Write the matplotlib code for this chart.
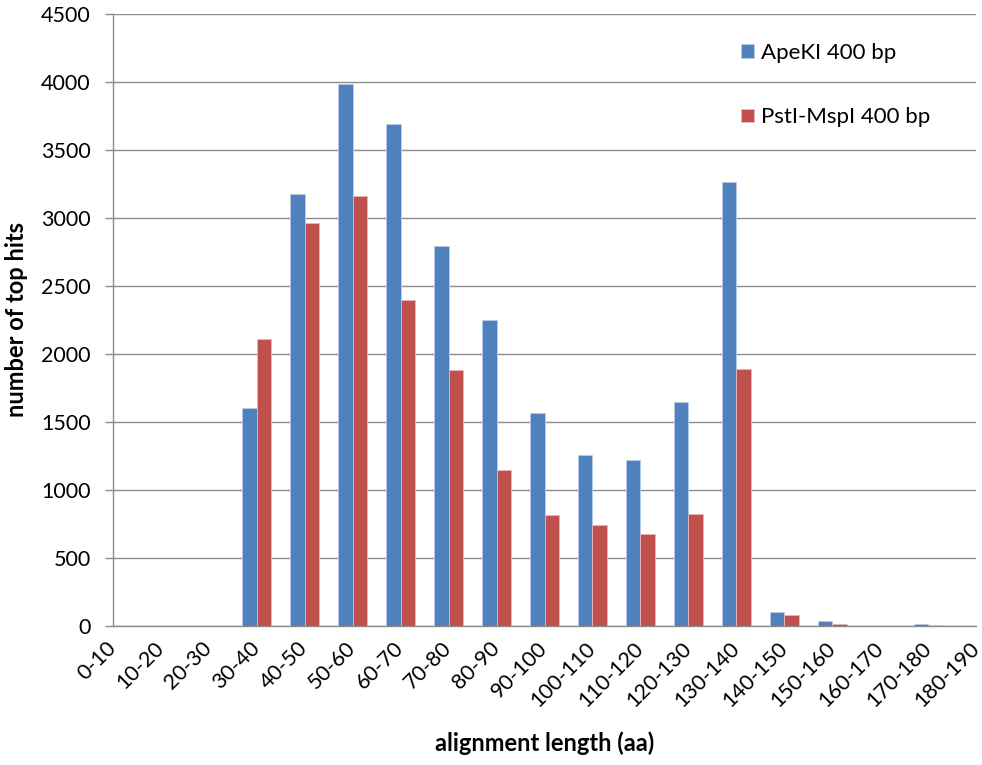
import numpy as np
from matplotlib import pyplot as plt

plt.rcParams['font.family'] = ['Lato', 'DejaVu Sans']

# alignment length bins (aa) and number of top hits per library
categories = ['0-10', '10-20', '20-30', '30-40', '40-50', '50-60', '60-70',
              '70-80', '80-90', '90-100', '100-110', '110-120', '120-130',
              '130-140', '140-150', '150-160', '160-170', '170-180', '180-190']
apeki = [0, 0, 0, 1600, 3172, 3981, 3690, 2792, 2247, 1562, 1257, 1216,
         1645, 3260, 103, 37, 0, 15, 0]
pstl_mspl = [0, 0, 0, 2105, 2959, 3162, 2397, 1878, 1143, 812, 738, 672,
             821, 1885, 78, 12, 0, 2, 0]

blue = '#4F81BD'
red = '#C0504D'
grid_grey = '#8C8C8C'

fig = plt.figure(figsize=(9.82, 7.65), dpi=100)
ax = fig.add_axes([0.115, 0.182, 0.879, 0.800])

x = np.arange(len(categories))
w = 0.30
ax.bar(x - w / 2, apeki, w, color=blue, edgecolor='#B9CDE5', linewidth=0.6,
       label='ApeKI 400 bp', zorder=3)
ax.bar(x + w / 2, pstl_mspl, w, color=red, edgecolor='#E6B9B8', linewidth=0.6,
       label='PstI-MspI 400 bp', zorder=3)

# categories sit on the tick marks, first and last at the plot edges
ax.set_xlim(0, len(categories) - 1)
ax.set_ylim(0, 4500)
ax.set_yticks(np.arange(0, 4501, 500))
ax.yaxis.grid(True, color=grid_grey, linewidth=1.0, zorder=0)
ax.set_axisbelow(True)

ax.set_xticks(x)
ax.set_xticklabels(categories, rotation=45, ha='right', va='center',
                   rotation_mode='anchor', fontsize=15.5)
ax.tick_params(axis='x', length=0, pad=14)
ax.tick_params(axis='y', length=6, width=1, color=grid_grey, pad=10,
               labelsize=15.5)

for side in ['top', 'right']:
    ax.spines[side].set_visible(False)
for side in ['left', 'bottom']:
    ax.spines[side].set_color(grid_grey)
    ax.spines[side].set_linewidth(1.0)

ax.set_ylabel('number of top hits', fontsize=17, fontweight='bold', labelpad=9)
ax.set_xlabel('alignment length (aa)', fontsize=17, fontweight='bold', labelpad=15)

ax.legend(loc='upper left', bbox_to_anchor=(0.705, 0.985), frameon=False,
          fontsize=16, handlelength=0.55, handleheight=0.55, labelspacing=2.0,
          handletextpad=0.35)

fig.savefig('out.png', dpi=100)
